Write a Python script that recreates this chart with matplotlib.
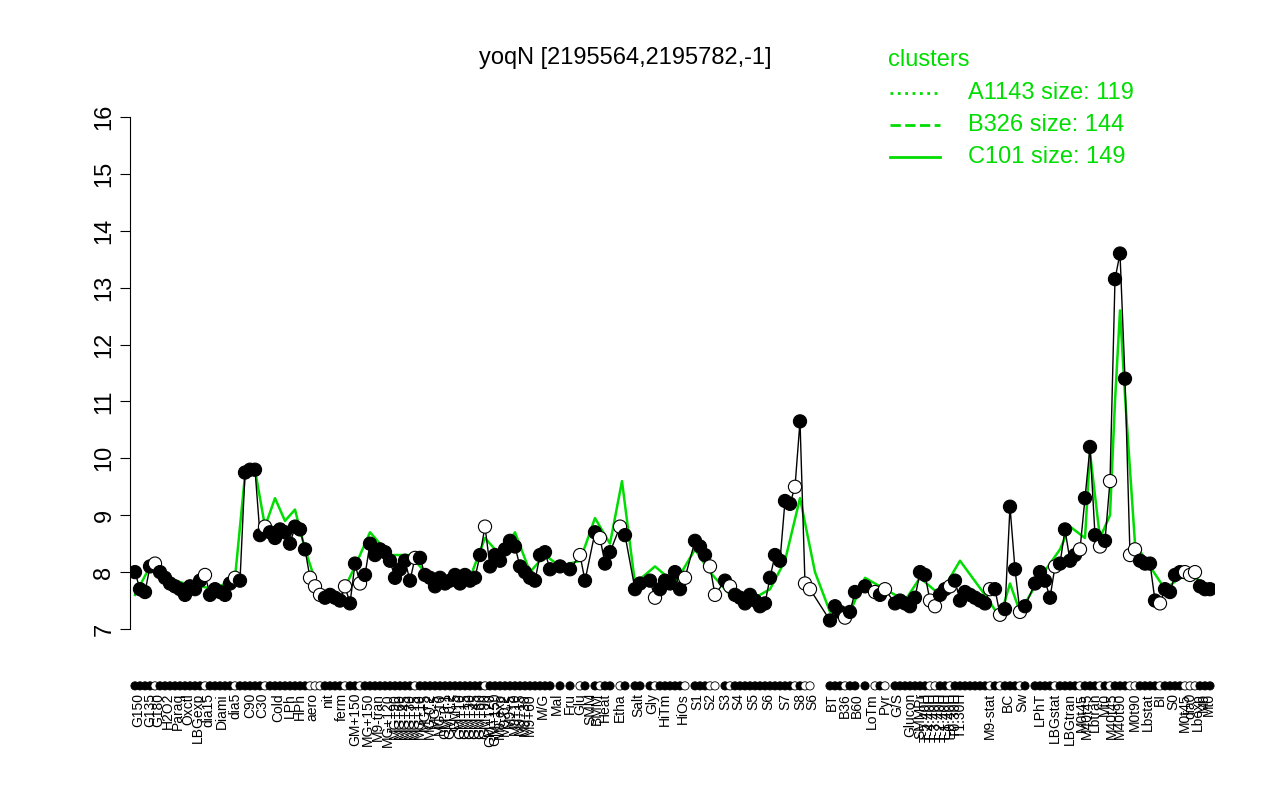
import matplotlib
matplotlib.use("Agg")
import matplotlib.pyplot as plt

pos = [135,140,145,150,155,160,165,170,175,180,185,190,195,200,205,210,215,220,225,230,235,240,245,250,255,260,265,270,275,280,285,290,295,300,305,310,315,320,325,330,335,340,345,350,355,360,365,370,375,380,385,390,395,400,405,410,415,420,425,430,435,440,445,450,455,460,465,470,475,480,485,490,495,500,505,510,515,520,525,530,535,540,545,550,560,570,580,585,595,600,605,610,620,625,635,640,650,655,660,665,670,675,680,685,695,700,705,710,715,725,730,735,740,745,750,755,760,765,770,775,780,785,790,795,800,805,810,830,835,840,845,850,855,865,875,880,885,895,900,905,910,915,920,925,930,935,940,945,950,955,960,965,970,975,980,985,990,995,1000,1005,1010,1015,1020,1025,1035,1040,1045,1050,1055,1060,1065,1070,1075,1080,1085,1090,1095,1100,1105,1110,1115,1120,1125,1130,1135,1140,1145,1150,1155,1160,1165,1170,1175,1180,1185,1190,1195,1200,1205,1210]
vals = [8.0,7.7,7.65,8.1,8.15,8.0,7.9,7.8,7.75,7.7,7.6,7.75,7.7,7.85,7.95,7.6,7.7,7.65,7.6,7.8,7.9,7.85,9.75,9.8,9.8,8.65,8.8,8.7,8.6,8.75,8.7,8.5,8.8,8.75,8.4,7.9,7.75,7.6,7.55,7.6,7.55,7.5,7.75,7.45,8.15,7.8,7.95,8.5,8.3,8.4,8.35,8.2,7.9,8.05,8.2,7.85,8.25,8.25,7.95,7.9,7.75,7.9,7.8,7.85,7.95,7.8,7.95,7.85,7.9,8.3,8.8,8.1,8.3,8.2,8.4,8.55,8.45,8.1,8.0,7.9,7.85,8.3,8.35,8.05,8.1,8.05,8.3,7.85,8.7,8.6,8.15,8.35,8.8,8.65,7.7,7.8,7.85,7.55,7.7,7.85,7.8,8.0,7.7,7.9,8.55,8.45,8.3,8.1,7.6,7.85,7.75,7.6,7.55,7.45,7.6,7.5,7.4,7.45,7.9,8.3,8.2,9.25,9.2,9.5,10.65,7.8,7.7,7.15,7.4,7.3,7.2,7.3,7.65,7.75,7.65,7.6,7.7,7.45,7.5,7.45,7.4,7.55,8.0,7.95,7.5,7.4,7.6,7.7,7.75,7.85,7.5,7.65,7.6,7.55,7.5,7.45,7.7,7.7,7.25,7.35,9.15,8.05,7.3,7.4,7.8,8.0,7.85,7.55,8.1,8.15,8.75,8.2,8.3,8.4,9.3,10.2,8.65,8.45,8.55,9.6,13.15,13.6,11.4,8.3,8.4,8.2,8.15,8.15,7.5,7.45,7.7,7.65,7.95,8.0,8.0,7.95,8.0,7.75,7.7,7.7]
hollow_pos = [155,205,235,265,310,315,320,345,360,415,485,580,600,620,655,685,710,715,730,795,805,810,845,875,885,930,935,950,990,1000,1020,1055,1080,1100,1110,1130,1135,1160,1185,1190,1195]

line_pos = [135,150,165,185,200,215,235,245,255,265,275,285,295,305,320,340,355,370,390,410,430,450,470,485,500,515,530,545,560,580,595,610,622,635,655,675,695,710,730,750,770,785,800,815,830,850,865,885,905,920,940,960,985,1000,1010,1020,1040,1060,1070,1085,1090,1100,1110,1115,1120,1125,1135,1150,1165,1180,1195,1210]
line_vals = [7.6,8.1,7.9,7.8,7.75,7.7,7.9,9.7,9.8,8.8,9.3,8.9,9.1,8.4,7.6,7.55,8.1,8.7,8.3,8.3,7.9,7.9,7.9,8.6,8.3,8.7,8.0,8.3,8.1,8.2,8.95,8.5,9.6,7.8,8.1,7.8,8.4,8.0,7.6,7.5,7.7,8.2,9.3,8.0,7.3,7.3,7.9,7.7,7.5,7.9,7.6,8.2,7.6,7.2,7.8,7.3,7.9,8.4,8.8,8.6,10.1,8.6,9.0,11.0,12.6,11.1,8.5,8.1,7.7,7.9,7.9,7.75]

tick_pos = [138,150,158,168,178,188,198,208,222,235,250,262,278,290,300,312,328,342,355,368,378,388,395,400,405,410,415,420,425,430,435,440,445,450,455,460,465,470,475,480,485,490,495,500,505,510,515,520,525,530,543,557,570,580,590,597,605,620,638,652,665,683,697,710,725,738,753,768,785,800,812,832,845,857,872,885,897,910,920,926,931,936,941,946,951,956,961,990,1008,1022,1040,1055,1070,1082,1087,1095,1105,1112,1120,1135,1148,1160,1173,1185,1190,1198,1204,1209]
tick_labels = ["G150","G135","G180","H2O2","Paraq","Oxctl","LBGexp","dia15","Diami","dia5","C90","C30","Cold","LPh","HPh","aero","nit","ferm","GM+150","MG+150","M9-tran","MG+120","MG+90","MG+60","MG+45","MG+30","MG+15","MG+10","MG+5","MG-0.2","MG-5","MG-10","GM-0.1","GM-0.2","GM+5","GM+10","GM+15","GM+30","GM+45","GM+60","GM+90","GM+120","GM+150","M9-exp","M9-0.2","M9+5","M9+10","M9+15","M9+30","M9+60","M/G","Mal","Fru","Glu","SMM","BMM","Heat","Etha","Salt","Gly","HiTm","HiOs","S1","S2","S3","S4","S5","S6","S7","S8","S6","BT","B36","B60","LoTm","Pyr","G/S","Glucon","SMMPr","T-5.40H","T-4.40H","T-3.40H","T-2.40H","T-1.40H","T-0.40H","T0.30H","T1.30H","M9-stat","BC","Sw","LPhT","LBGstat","LBGtran","M0t45","M40t45","Lbtran","Mt0","M40t45","M40t90","M0t90","Lbstat","BI","S0","M0t45","dia0","Lbexp","M9","Mt0"]

plt.rcParams["font.family"] = "Liberation Sans"
fig = plt.figure(figsize=(12.8, 8), dpi=100)
ax = fig.add_axes([130/1280, 171/800, 1085/1280, 512/800])
ax.set_xlim(130, 1215)
ax.set_ylim(7, 16)
green = "#00dd00"
ax.plot(line_pos, line_vals, color=green, lw=1.8, zorder=1)
ax.plot(pos, vals, color="black", lw=1, zorder=2)
fc = ["white" if p in hollow_pos else "black" for p in pos]
ax.scatter(pos, vals, s=90, facecolors=fc, edgecolors="black", linewidths=0.8, zorder=3)
ax.scatter(pos, [6.0]*len(pos), s=35, facecolors=fc, edgecolors="black", linewidths=0.6, zorder=3, clip_on=False)
for s in ["top", "right", "bottom"]:
    ax.spines[s].set_visible(False)
ax.set_yticks(range(7, 17))
ax.tick_params(axis="y", labelsize=17, rotation=90, length=7)
for t in ax.get_yticklabels():
    t.set_verticalalignment("center")
ax.set_xticks(tick_pos)
ax.set_xticklabels(tick_labels, rotation=90, fontsize=10, ha="right", va="center", rotation_mode="anchor")
ax.tick_params(axis="x", length=0, pad=46)
fig.text(625/1280, 1 - 58/800, "yoqN [2195564,2195782,-1]", ha="center", va="center", fontsize=17)
fig.text(888/1280, 1 - 60/800, "clusters", color=green, fontsize=17, va="center")
items = [(":", "A1143 size: 119", 93), ("--", "B326 size: 144", 125), ("-", "C101 size: 149", 157)]
for ls, lab, y in items:
    fig.add_artist(plt.Line2D([890/1280, 940/1280], [1 - y/800]*2, color=green, ls=ls, lw=2))
    fig.text(968/1280, 1 - y/800, lab, color=green, fontsize=17, va="center")
fig.savefig("out.png", dpi=100)
